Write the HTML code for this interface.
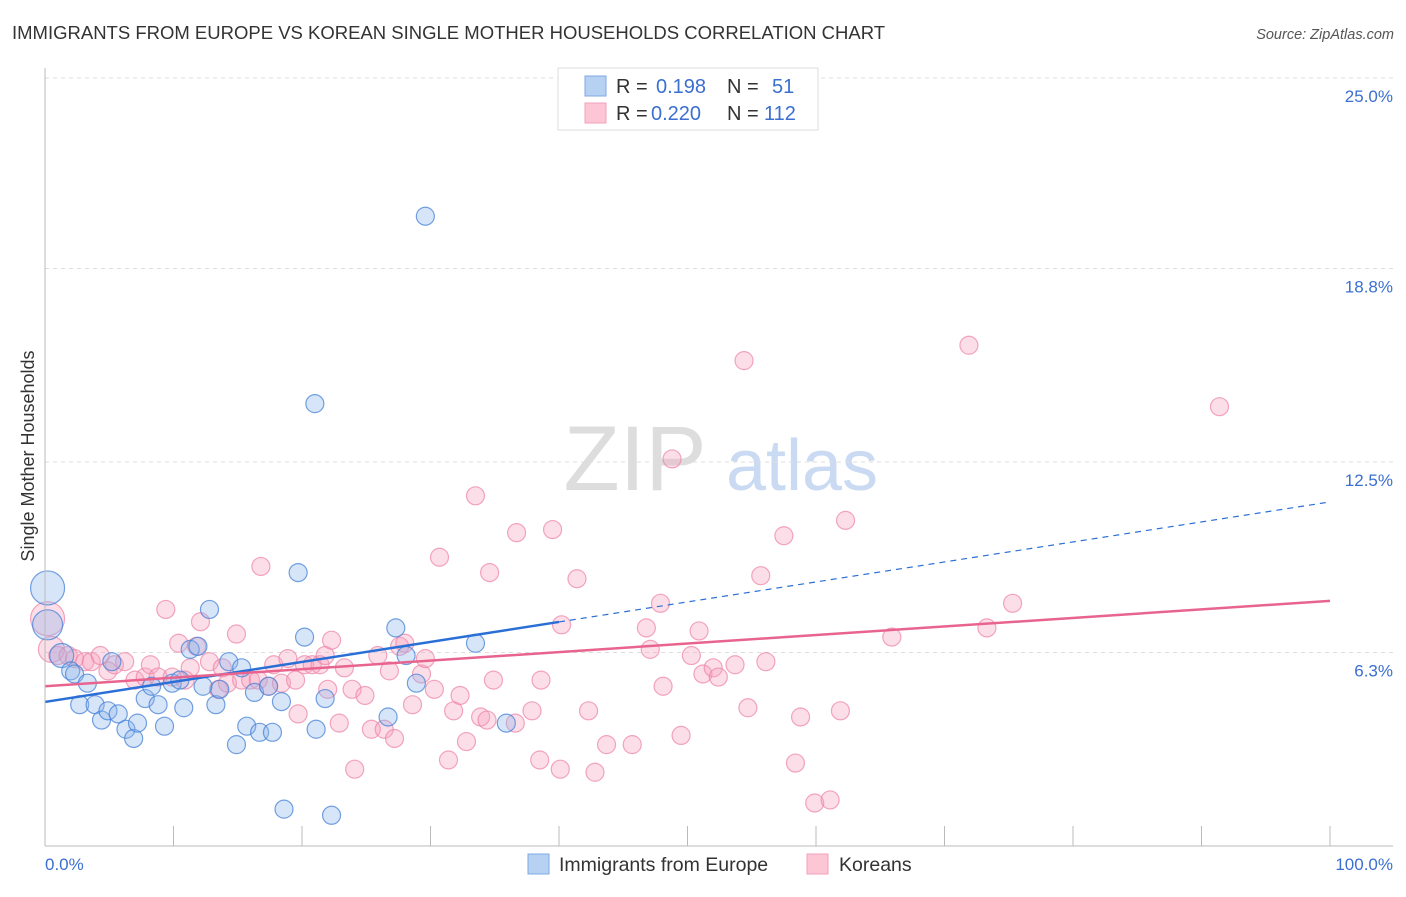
<!DOCTYPE html>
<html><head><meta charset="utf-8"><style>
body{margin:0;background:#fff;font-family:"Liberation Sans",sans-serif;}
svg text{font-family:"Liberation Sans",sans-serif;}
</style></head><body>
<svg width="1406" height="892" id="chart">
<text x="12" y="39" font-size="18.5" fill="#333">IMMIGRANTS FROM EUROPE VS KOREAN SINGLE MOTHER HOUSEHOLDS CORRELATION CHART</text>
<text x="1394" y="39" font-size="14.5" fill="#555" font-style="italic" text-anchor="end">Source: ZipAtlas.com</text>
<text x="34" y="456" font-size="18" fill="#333" text-anchor="middle" transform="rotate(-90 34 456)">Single Mother Households</text>
<g><text x="635" y="490" font-size="92" fill="#ddd" font-family="Liberation Serif" text-anchor="middle">ZIP</text><text x="802" y="490" font-size="72" fill="#c9daf2" text-anchor="middle">atlas</text></g>
<g id="grid"></g><g id="pts"></g><g id="lines"></g>
<line x1="45" y1="68" x2="45" y2="846" stroke="#bbb"/>
<line x1="45" y1="846" x2="1393" y2="846" stroke="#bbb"/>
<text x="45" y="870" font-size="17" fill="#3b6fd0">0.0%</text>
<text x="1393" y="870" font-size="17" fill="#3b6fd0" text-anchor="end">100.0%</text>
<g>
<rect x="558" y="68" width="260" height="62" fill="#fff" stroke="#ddd"/>
<rect x="585" y="76" width="21" height="20" fill="#b7d1f3" stroke="#7ea9e6"/>
<rect x="585" y="103" width="21" height="20" fill="#fcc6d5" stroke="#f2a2bb"/>
<text x="616" y="93" font-size="20" fill="#333">R = </text><text x="656" y="93" font-size="20" fill="#3b6fd0">0.198</text>
<text x="727" y="93" font-size="20" fill="#333">N = </text><text x="772" y="93" font-size="20" fill="#3b6fd0">51</text>
<text x="616" y="120" font-size="20" fill="#333">R = </text><text x="651" y="120" font-size="20" fill="#3b6fd0">0.220</text>
<text x="727" y="120" font-size="20" fill="#333">N = </text><text x="764" y="120" font-size="20" fill="#3b6fd0">112</text>
</g>
<g>
<rect x="528" y="854" width="21" height="20" fill="#b7d1f3" stroke="#7ea9e6"/>
<text x="559" y="871" font-size="19.5" fill="#333">Immigrants from Europe</text>
<rect x="807" y="854" width="21" height="20" fill="#fcc6d5" stroke="#f2a2bb"/>
<text x="839" y="871" font-size="19.5" fill="#333">Koreans</text>
</g>
</svg>
<script>
const yTicks=[6.3,12.5,18.8,25.0];
const yTickLabels=["6.3%","12.5%","18.8%","25.0%"];
const xTicks=[0,10,20,30,40,50,60,70,80,90,100];
const blueX=[0.2,0.2,1.3,2.0,2.3,3.3,2.7,3.9,4.4,4.9,5.7,6.3,6.9,7.2,5.2,7.8,8.3,8.8,9.3,9.9,10.5,10.8,11.3,11.9,12.8,12.3,13.3,13.6,14.3,14.9,15.3,15.7,16.3,16.7,17.4,17.7,18.4,18.6,19.7,20.2,21.0,21.1,21.8,22.3,26.7,27.3,28.1,28.9,29.6,33.5,35.9];
const blueY=[8.4,7.2,6.2,5.7,5.6,5.3,4.6,4.6,4.1,4.4,4.3,3.8,3.5,4.0,6.0,4.8,5.2,4.6,3.9,5.3,5.4,4.5,6.4,6.5,7.7,5.2,4.6,5.1,6.0,3.3,5.8,3.9,5.0,3.7,5.2,3.7,4.7,1.2,8.9,6.8,14.4,3.8,4.8,1.0,4.2,7.1,6.2,5.3,20.5,6.6,4.0];
const blueR=[17,15,12];
const pinkX=[0.2,0.5,1.0,1.8,2.3,3.1,3.6,4.3,4.9,5.4,6.2,7.0,7.8,8.2,8.8,9.4,9.9,10.4,10.9,11.3,11.8,12.1,12.8,13.5,13.8,14.2,14.9,15.3,16.0,16.6,16.8,17.4,17.8,18.4,18.9,19.5,19.7,20.2,20.8,21.4,21.8,22.0,22.3,22.9,23.3,23.9,24.1,24.9,25.4,25.9,26.4,26.8,27.2,27.6,28.0,28.6,29.3,29.6,30.3,30.7,31.4,31.8,32.3,32.8,33.5,33.9,34.4,34.9,34.6,36.7,36.6,37.9,38.5,38.6,39.5,40.1,40.2,41.4,42.3,42.8,43.7,45.7,46.8,47.1,47.9,48.1,48.8,49.5,50.3,50.9,51.2,52.0,52.4,53.7,54.4,54.7,55.7,56.1,57.5,58.4,58.8,59.9,61.1,61.9,62.3,65.9,71.9,73.3,75.3,91.4];
const pinkY=[7.4,6.4,6.2,6.2,6.1,6.0,6.0,6.2,5.7,5.9,6.0,5.4,5.5,5.9,5.5,7.7,5.5,6.6,5.4,5.8,6.5,7.3,6.0,5.1,5.8,5.3,6.9,5.4,5.4,5.4,9.1,5.2,5.9,5.3,6.1,5.4,4.3,5.9,5.9,5.9,6.2,5.1,6.7,4.0,5.8,5.1,2.5,4.9,3.8,6.2,3.8,5.7,3.5,6.5,6.6,4.6,5.6,6.1,5.1,9.4,2.8,4.4,4.9,3.4,11.4,4.2,4.1,5.4,8.9,10.2,4.0,4.4,2.8,5.4,10.3,2.5,7.2,8.7,4.4,2.4,3.3,3.3,7.1,6.4,7.9,5.2,12.6,3.6,6.2,7.0,5.6,5.8,5.5,5.9,15.8,4.5,8.8,6.0,10.1,2.7,4.2,1.4,1.5,4.4,10.6,6.8,16.3,7.1,7.9,14.3];
const pinkR=[17,13];
const blueFit=[4.69,11.2];
const pinkFit=[5.2,7.98];
const blueSolidEnd=40;
const NS="http://www.w3.org/2000/svg";
const X0=45,X1=1330,Y0=846,PY=30.72;
function sx(v){return X0+(X1-X0)*v/100;}
function sy(v){return Y0-v*PY;}
function mk(tag,attrs,parent){const e=document.createElementNS(NS,tag);for(const k in attrs)e.setAttribute(k,attrs[k]);parent.appendChild(e);return e;}
const grid=document.getElementById('grid');
yTicks.forEach((t,i)=>{
  const l=mk('line',{x1:45,x2:1393,y1:sy(t),y2:sy(t),stroke:'#ddd','stroke-dasharray':'4,4'},grid);
  
  
  const tx=mk('text',{x:1393,y:sy(t)+24,'font-size':17,fill:'#3b6fd0','text-anchor':'end'},grid);
  tx.textContent=yTickLabels[i];
  
  
});
const gl=mk('line',{x1:45,x2:1393,y1:78,y2:78,stroke:'#ddd','stroke-dasharray':'4,4'},grid);
xTicks.forEach(t=>{
  const l=mk('line',{x1:sx(t),x2:sx(t),y1:826,y2:846,stroke:'#bbb'},grid);
  
  
});
const pts=document.getElementById('pts');
pinkX.forEach((x,i)=>{
  const c=mk('circle',{cx:sx(x),cy:sy(pinkY[i]),r:pinkR[i]||9,fill:'rgba(246,160,189,0.35)',stroke:'rgba(236,130,165,0.7)','stroke-width':1.2},pts);
  
  
});
blueX.forEach((x,i)=>{
  const c=mk('circle',{cx:sx(x),cy:sy(blueY[i]),r:blueR[i]||9,fill:'rgba(140,180,235,0.35)',stroke:'rgba(70,130,215,0.75)','stroke-width':1.2},pts);
  
  
});
const lines=document.getElementById('lines');
function fy(f,x){return f[0]+(f[1]-f[0])*x/100;}
const b1=mk('line',{x1:sx(0),y1:sy(fy(blueFit,0)),x2:sx(blueSolidEnd),y2:sy(fy(blueFit,blueSolidEnd)),stroke:'#2a6fd6','stroke-width':2.5},lines);


const b2=mk('line',{x1:sx(blueSolidEnd),y1:sy(fy(blueFit,blueSolidEnd)),x2:sx(100),y2:sy(fy(blueFit,100)),stroke:'#2a6fd6','stroke-width':1.2,'stroke-dasharray':'6,5'},lines);


const p1=mk('line',{x1:sx(0),y1:sy(fy(pinkFit,0)),x2:sx(100),y2:sy(fy(pinkFit,100)),stroke:'#e8648e','stroke-width':2.5},lines);


</script>
</body></html>
